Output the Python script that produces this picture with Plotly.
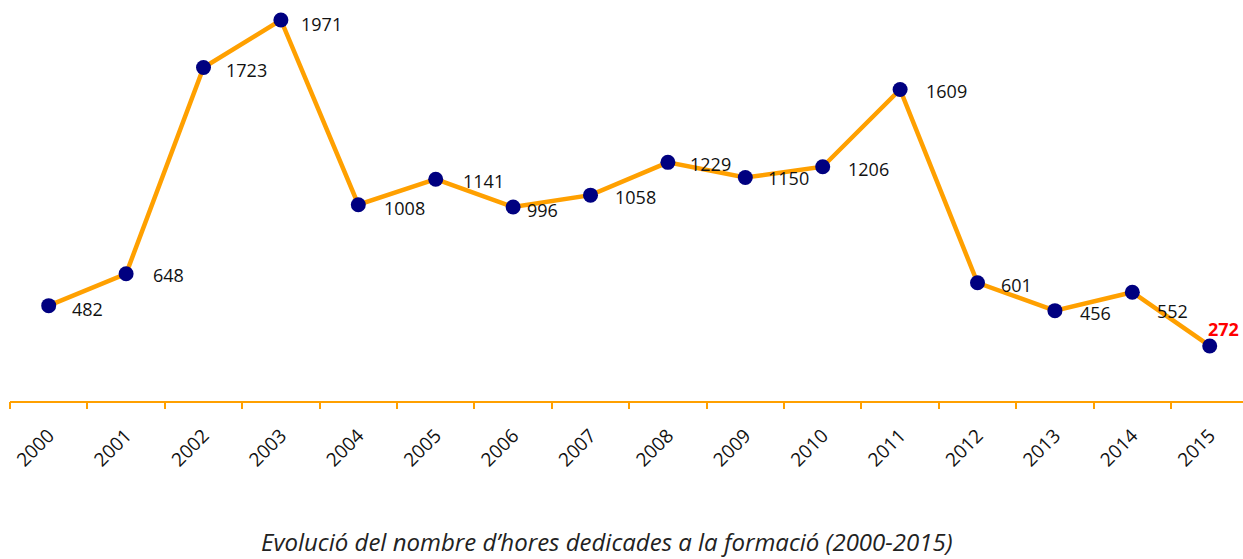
import plotly.graph_objects as go

years = ["2000", "2001", "2002", "2003", "2004", "2005", "2006", "2007",
         "2008", "2009", "2010", "2011", "2012", "2013", "2014", "2015"]
hours = [482, 648, 1723, 1971, 1008, 1141, 996, 1058,
         1229, 1150, 1206, 1609, 601, 456, 552, 272]
title_text = "Evolució del nombre d’hores dedicades a la formació (2000-2015)"

# label offsets in pixels (style only)
dx = [39, 42, 43, 41, 46, 48, 29, 45, 43, 43, 46, 46, 39, 41, 40, 14]
dy = [-3, -1, -2, -4, -3, -2, -3, -2, -2, -1, -2, -2, -2, -2, -19, 17]

ORANGE = "#FFA000"
NAVY = "#000080"
FONT = "Open Sans"

fig = go.Figure()
fig.add_trace(go.Scatter(
    x=list(range(len(years))), y=hours, mode="lines+markers",
    line=dict(color=ORANGE, width=4.5),
    marker=dict(color=NAVY, size=15),
    hoverinfo="y", showlegend=False,
))

for i, v in enumerate(hours):
    last = i == len(hours) - 1
    fig.add_annotation(
        x=i, y=v, text=f"<b>{v}</b>" if last else str(v),
        showarrow=False, xanchor="center", yanchor="middle",
        xshift=dx[i], yshift=dy[i],
        font=dict(family=FONT, size=18, color="#FF0000" if last else "#111111"),
    )

fig.add_annotation(
    x=0.484, y=-0.3606, xref="paper", yref="paper", text=f"<i>{title_text}</i>",
    showarrow=False, xanchor="center", yanchor="middle",
    font=dict(family=FONT, size=24, color="#222222"),
)

fig.update_layout(
    width=1243, height=559,
    margin=dict(l=10, r=0, t=10, b=158),
    paper_bgcolor="white", plot_bgcolor="white",
    xaxis=dict(
        range=[-0.5, 15.43],
        tickmode="array", tickvals=list(range(len(years))), ticktext=years,
        showgrid=False, zeroline=False,
        showline=True, linecolor=ORANGE, linewidth=2,
        ticks="", tickangle=-45, ticklabelstandoff=14,
        tickfont=dict(family=FONT, size=19, color="#111111"),
    ),
    yaxis=dict(range=[-15, 2023], visible=False, showgrid=False, zeroline=False),
)

# boundary tick marks drawn on a second overlaying axis
fig.update_layout(
    xaxis2=dict(
        overlaying="x", matches="x", side="bottom", anchor="y",
        tickmode="array", tickvals=[i - 0.5 for i in range(len(years) + 1)],
        showticklabels=False, ticks="outside", ticklen=7, tickwidth=2,
        tickcolor=ORANGE, showgrid=False, zeroline=False, showline=False,
    )
)
fig.add_trace(go.Scatter(x=[0], y=[None], xaxis="x2", showlegend=False, hoverinfo="skip"))

fig.write_html(
    "out.html",
    config={"displayModeBar": False},
    post_script="document.body.style.margin='0';document.body.style.overflow='hidden';",
)
